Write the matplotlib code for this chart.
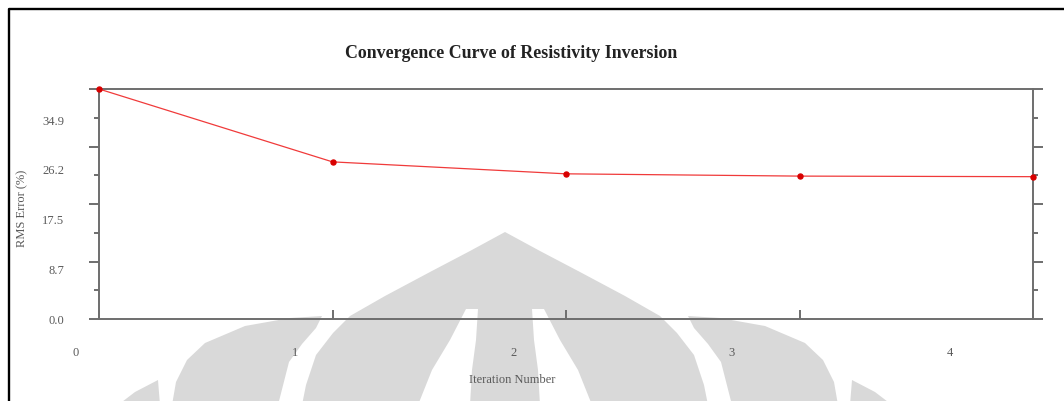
"""Convergence curve of a resistivity inversion (RMS error per iteration)."""
import numpy as np
import matplotlib.pyplot as plt
import matplotlib as mpl
from matplotlib.patches import Polygon
from matplotlib.lines import Line2D

mpl.rcParams.update({
    "font.family": "Liberation Serif",
    "font.size": 9,
    "axes.linewidth": 1.4,
})

# data
iterations = [0, 1, 2, 3, 4]
rms_error = [40.4, 27.6, 25.5, 25.1, 25.0]
y_label_values = [0.0, 8.7, 17.5, 26.2, 34.9]
y_labels = ["0.0", "8.7", "17.5", "26.2", "34.9"]
x_labels = ["0", "1", "2", "3", "4"]

LINE_RED = "#f03a3a"
DOT_RED = "#d80000"
AXIS_GREY = "#6e6e6e"
TEXT_GREY = "#5a5a5a"
WM_GREY = "#d9d9d9"

W, H = 1064, 401
fig = plt.figure(figsize=(W / 100, H / 100), dpi=100, facecolor="white")

# background layer in pixel coordinates: watermark + page border
bg = fig.add_axes([0, 0, 1, 1], zorder=0)
bg.set_xlim(0, W)
bg.set_ylim(H, 0)
bg.axis("off")

CX = 505


def mirror(pts):
    return [(2 * CX - x, y) for x, y in pts]


body_left = [(302, 405), (306, 385), (316, 355), (333, 333), (350, 316),
             (385, 296), (430, 272), (470, 251), (505, 232)]
body = body_left + mirror(body_left[:-1][::-1])
strip = [(466, 309), (478, 309), (476, 340), (472, 370), (470, 405),
         (418, 405), (432, 370), (450, 340)]
wing = [(322, 316), (316, 328), (302, 344), (289, 362), (278, 405),
        (172, 405), (176, 382), (187, 360), (205, 343), (245, 326),
        (290, 318)]
tip = [(158, 380), (160, 405), (118, 405), (135, 392)]

bg.add_patch(Polygon(body, closed=True, fc=WM_GREY, ec="none"))
for shape in (strip, mirror(strip)):
    bg.add_patch(Polygon(shape, closed=True, fc="white", ec="none"))
for shape in (wing, mirror(wing), tip, mirror(tip)):
    bg.add_patch(Polygon(shape, closed=True, fc=WM_GREY, ec="none"))

bg.add_line(Line2D([9, 9, W + 5], [H + 5, 9, 9], color="black", lw=1.7))

# chart
ax = fig.add_axes([99 / W, 1 - 319 / H, 934 / W, 230 / H], zorder=1)
ax.set_facecolor("none")
ymax = rms_error[0]
ax.set_xlim(iterations[0], iterations[-1])
ax.set_ylim(0, ymax)

ax.plot(iterations, rms_error, color=LINE_RED, lw=0.9, zorder=3, clip_on=False)
ax.plot(iterations, rms_error, "o", color=DOT_RED, ms=3.6, zorder=4,
        clip_on=False)

for s in ax.spines.values():
    s.set_color(AXIS_GREY)

# y tick marks: long every ymax/4, short in between (both sides, outward)
ax.set_yticks(np.linspace(0, ymax, 5))
ax.set_yticks(np.linspace(0, ymax, 9)[1::2], minor=True)
ax.tick_params(axis="y", which="major", direction="out", length=7.4,
               width=1.4, color=AXIS_GREY, left=True, right=True,
               labelleft=False)
ax.tick_params(axis="y", which="minor", direction="out", length=3.8,
               width=1.4, color=AXIS_GREY, left=True, right=True)

# x tick marks at each iteration, pointing inward
ax.set_xticks(iterations)
ax.tick_params(axis="x", which="major", direction="in", length=6.8,
               width=1.4, color=AXIS_GREY, labelbottom=False)

# tick labels (placed on their own scale, as in the original export)
ysec = ax.secondary_yaxis("left")
ysec.set_yticks(y_label_values, y_labels)
ysec.tick_params(length=0, pad=25, labelsize=9, labelcolor=TEXT_GREY)
ysec.spines["left"].set_visible(False)

x_label_pos = [-0.0985 + 0.936 * i for i in range(len(x_labels))]
for xp, lab in zip(x_label_pos, x_labels):
    ax.text(xp, -0.148, lab, transform=ax.get_xaxis_transform(),
            ha="center", va="center", fontsize=9, color=TEXT_GREY,
            clip_on=False)

fig.text(511 / W, 1 - 53 / H, "Convergence Curve of Resistivity Inversion",
         ha="center", va="center", fontsize=12.9, fontweight="bold",
         color="#222222")
fig.text(22 / W, 1 - 208 / H, "RMS Error (%)", rotation=90, ha="center",
         va="center", fontsize=9, color=TEXT_GREY)
fig.text(512 / W, 1 - 380 / H, "Iteration Number", ha="center",
         va="center", fontsize=9, color=TEXT_GREY)

fig.savefig("out.png", dpi=100, facecolor="white")
plt.close(fig)
print("Saved out.png")
